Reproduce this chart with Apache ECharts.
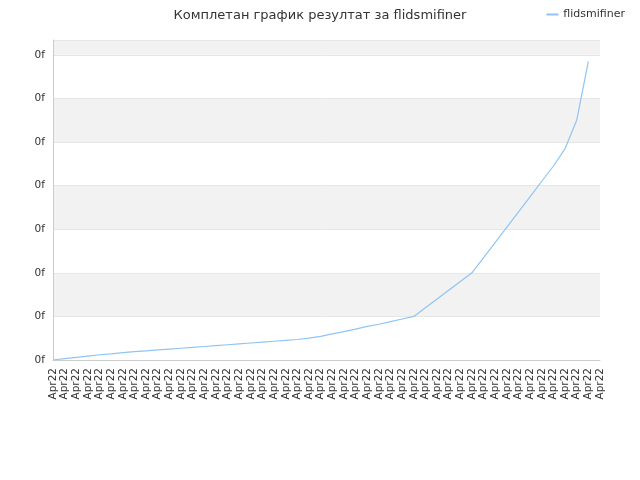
<!DOCTYPE html><html><head><meta charset="utf-8"><script src="https://cdn.jsdelivr.net/npm/echarts@6/dist/echarts.min.js"></script></head><body style="margin:0"><div id="c" style="width:640px;height:480px"></div><script>
const categories = Array.from({length:48}, () => 'Apr22');
const values = [0,.03,.06,.09,.12,.14,.17,.19,.21,.23,.25,.27,.29,.31,.33,.35,.37,.39,.41,.43,.45,.47,.5,.54,.6,.65,.71,.77,.82,.88,.94,1.0,1.2,1.4,1.6,1.8,2.0,2.35,2.7,3.05,3.4,3.75,4.1,4.45,4.85,5.5,6.85,null];
const yLabel = '0f';
const chart = echarts.init(document.getElementById('c'));
chart.setOption({
  animation:false,
  title:{text:'Комплетан график резултат за flidsmifiner',left:'center',top:4,textStyle:{fontFamily:'DejaVu Sans',fontSize:13,fontWeight:'normal',color:'#333'}},
  legend:{right:10,top:4,itemWidth:12,itemHeight:2,icon:'rect',textStyle:{fontFamily:'DejaVu Sans',fontSize:11,color:'#333'},data:['flidsmifiner']},
  grid:{left:53,right:40,top:40,bottom:120},
  xAxis:{type:'category',data:categories,boundaryGap:false,axisLine:{lineStyle:{color:'#ccc'}},axisTick:{show:false},
    axisLabel:{rotate:90,interval:0,fontFamily:'DejaVu Sans',fontSize:10.5,color:'#333'}},
  yAxis:{type:'value',min:0,max:7.34,interval:1,axisLine:{show:true,lineStyle:{color:'#ccc'}},
    axisLabel:{formatter:()=>yLabel,fontFamily:'DejaVu Sans',fontSize:10.5,color:'#333',showMaxLabel:false},
    splitLine:{lineStyle:{color:'#e6e6e6'}},splitArea:{show:true,areaStyle:{color:['#ffffff','#f2f2f2']}}},
  series:[{name:'flidsmifiner',type:'line',data:values,showSymbol:false,symbol:'none',lineStyle:{color:'#90c4f5',width:1.2},itemStyle:{color:'#90c4f5'}}]
});
</script></body></html>
